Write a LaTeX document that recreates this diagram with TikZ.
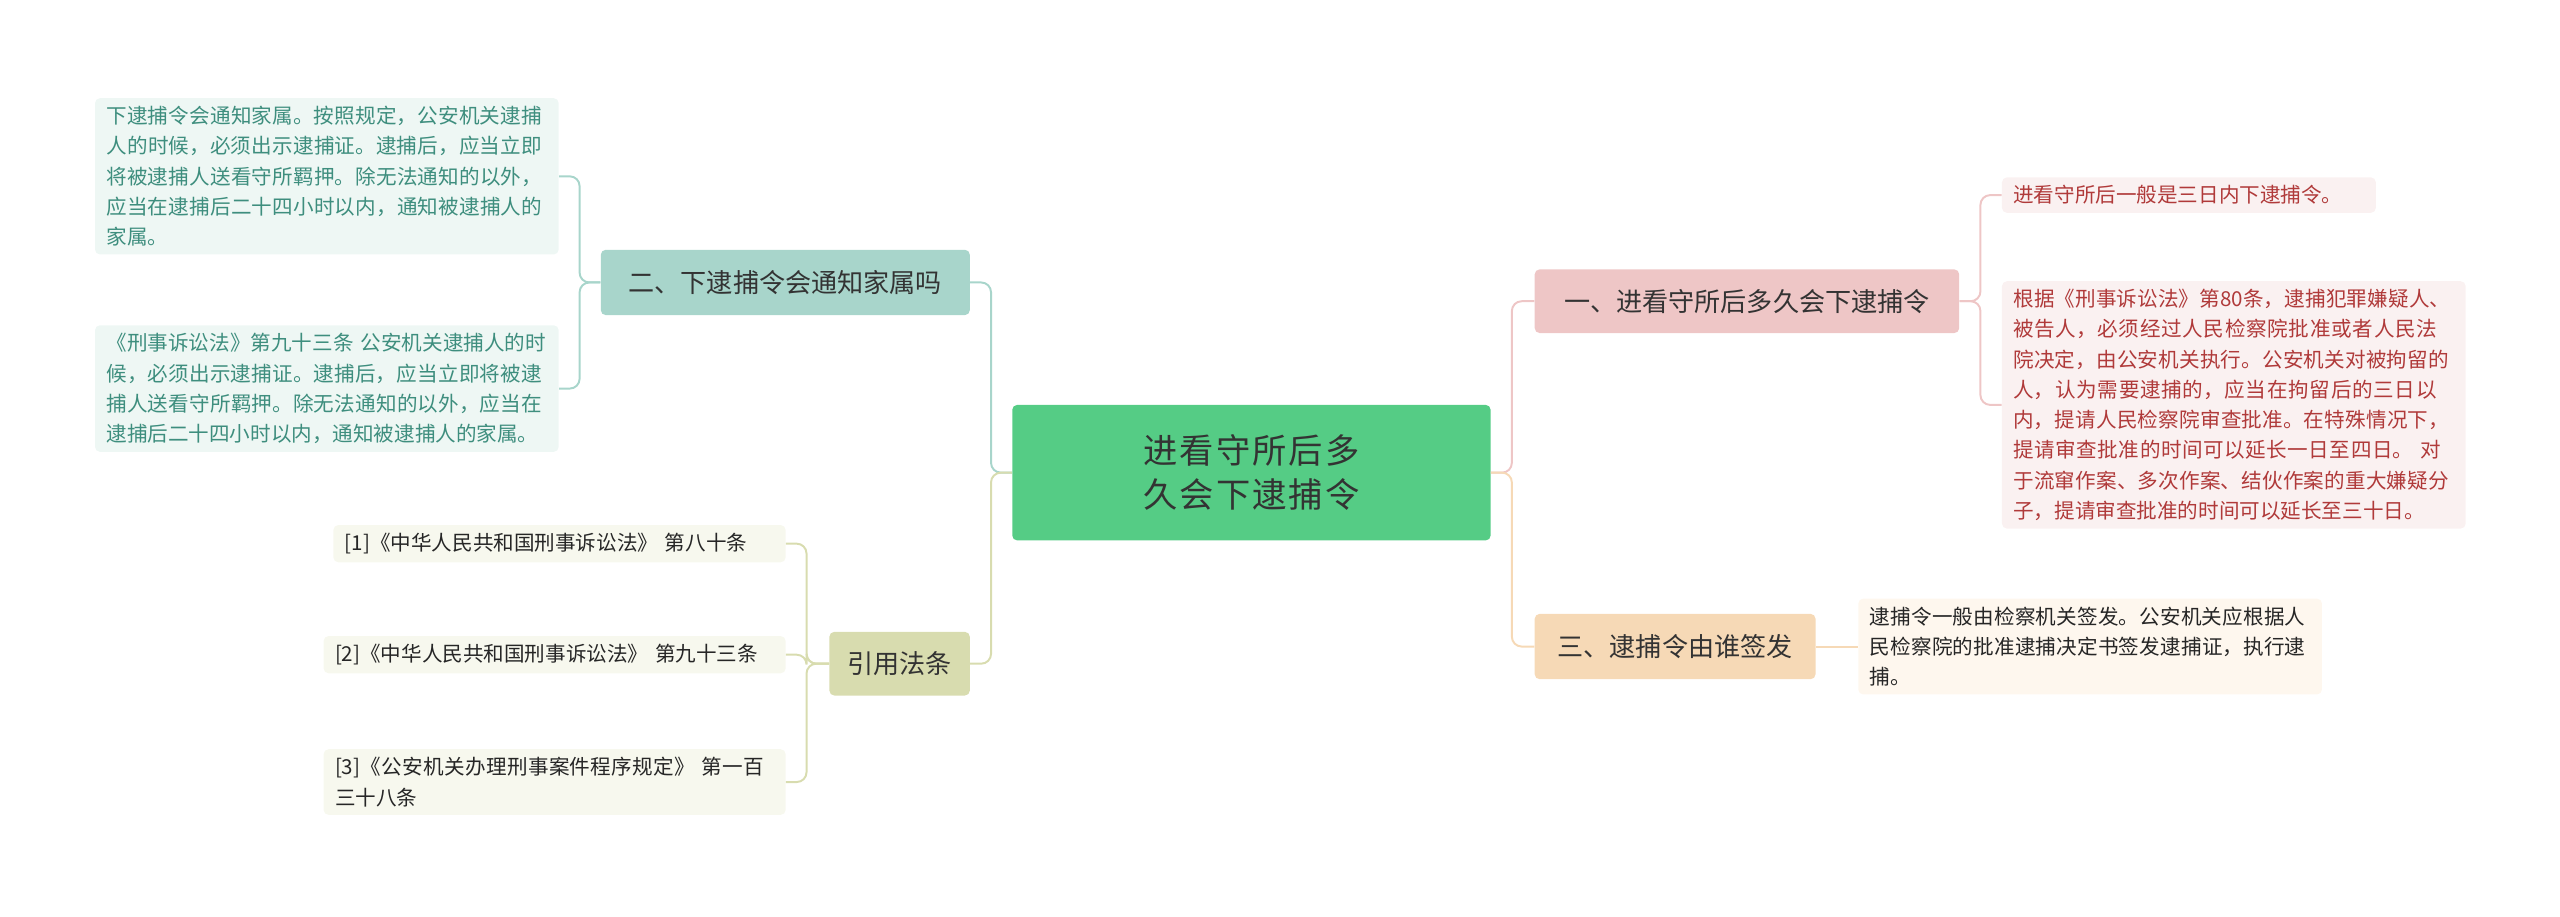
\documentclass[tikz,border=0pt]{standalone}
\usepackage{fontspec}
\setmainfont{Noto Sans CJK SC}
\XeTeXlinebreaklocale "zh"
\XeTeXlinebreakskip=0pt plus 1pt
\begin{document}
\begin{tikzpicture}[x=1pt,y=-1pt,
 box/.style={rounded corners=3pt,inner sep=0pt,align=center},
 leaf/.style={rounded corners=3pt,inner xsep=7pt,inner ysep=5pt,align=left,font=\fontsize{12.6}{18.5}\selectfont,anchor=west},
 br/.style={box,font=\fontsize{16}{20}\selectfont,text=black!80},
 con/.style={line width=1.2pt,rounded corners=6pt}]
\useasboundingbox (0,0) rectangle (1568,561.6);
\definecolor{cg}{HTML}{55CC85}
\definecolor{pk}{HTML}{EEC6C6}\definecolor{pkl}{HTML}{FAF1F1}\definecolor{pkt}{HTML}{B03A3A}
\definecolor{pe}{HTML}{F6D9B6}\definecolor{pel}{HTML}{FEF7EE}
\definecolor{te}{HTML}{A8D5CB}\definecolor{tel}{HTML}{EEF7F4}\definecolor{tet}{HTML}{3E8E7E}
\definecolor{ol}{HTML}{D8DCAF}\definecolor{oll}{HTML}{F7F8EE}
\node[box,fill=cg,minimum width=293,minimum height=83,text width=245,font=\fontsize{21}{27}\selectfont,text=black!80] (c) at (766.5,289.5) {进看守所后多久会下逮捕令};
\node[br,fill=pk,minimum width=260,minimum height=39] (b1) at (1070,184.5) {一、进看守所后多久会下逮捕令};
\node[br,fill=pe,minimum width=172,minimum height=40] (b3) at (1026,396) {三、逮捕令由谁签发};
\node[br,fill=te,minimum width=226,minimum height=40] (b2) at (481,173) {二、下逮捕令会通知家属吗};
\node[br,fill=ol,minimum width=86,minimum height=39] (b4) at (551,406.5) {引用法条};
% right leaves
\node[leaf,fill=pkl,text=pkt,text width=215] (r1) at (1226,119.5) {进看守所后一般是三日内下逮捕令。};
\node[leaf,fill=pkl,text=pkt,text width=270] (r2) at (1226,248) {根据《刑事诉讼法》第80条，逮捕犯罪嫌疑人、被告人，必须经过人民检察院批准或者人民法院决定，由公安机关执行。公安机关对被拘留的人，认为需要逮捕的，应当在拘留后的三日以内，提请人民检察院审查批准。在特殊情况下，提请审查批准的时间可以延长一日至四日。 对于流窜作案、多次作案、结伙作案的重大嫌疑分子，提请审查批准的时间可以延长至三十日。};
\node[leaf,fill=pel,text=black!85,text width=270] (r3) at (1138,396) {逮捕令一般由检察机关签发。公安机关应根据人民检察院的批准逮捕决定书签发逮捕证，执行逮捕。};
% left leaves
\node[leaf,fill=tel,text=tet,text width=270] (l1) at (58,108) {下逮捕令会通知家属。按照规定，公安机关逮捕人的时候，必须出示逮捕证。逮捕后，应当立即将被逮捕人送看守所羁押。除无法通知的以外，应当在逮捕后二十四小时以内，通知被逮捕人的家属。};
\node[leaf,fill=tel,text=tet,text width=270] (l2) at (58,238) {《刑事诉讼法》第九十三条 公安机关逮捕人的时候，必须出示逮捕证。逮捕后，应当立即将被逮捕人送看守所羁押。除无法通知的以外，应当在逮捕后二十四小时以内，通知被逮捕人的家属。};
\node[leaf,fill=oll,text=black!85,text width=263] (l3) at (204,333) {[1]《中华人民共和国刑事诉讼法》 第八十条};
\node[leaf,fill=oll,text=black!85,text width=269] (l4) at (198,401) {[2]《中华人民共和国刑事诉讼法》 第九十三条};
\node[leaf,fill=oll,text=black!85,text width=269] (l5) at (198,479) {[3]《公安机关办理刑事案件程序规定》 第一百三十八条};
% connectors
\draw[con,pk] (c.east) -- (926,289.5) |- (b1.west);
\draw[con,pe] (c.east) -- (926,289.5) |- (b3.west);
\draw[con,te] (c.west) -- (607,289.5) |- (b2.east);
\draw[con,ol] (c.west) -- (607,289.5) |- (b4.east);
\draw[con,pk] (b1.east) -- (1213,184.5) |- (r1.west);
\draw[con,pk] (b1.east) -- (1213,184.5) |- (r2.west);
\draw[con,pe] (b3.east) -- (r3.west);
\draw[con,te] (b2.west) -- (355,173) |- (l1.east);
\draw[con,te] (b2.west) -- (355,173) |- (l2.east);
\draw[con,ol] (b4.west) -- (494,406.5) |- (l3.east);
\draw[con,ol] (b4.west) -- (494,406.5) |- (l4.east);
\draw[con,ol] (b4.west) -- (494,406.5) |- (l5.east);
\end{tikzpicture}
\end{document}
